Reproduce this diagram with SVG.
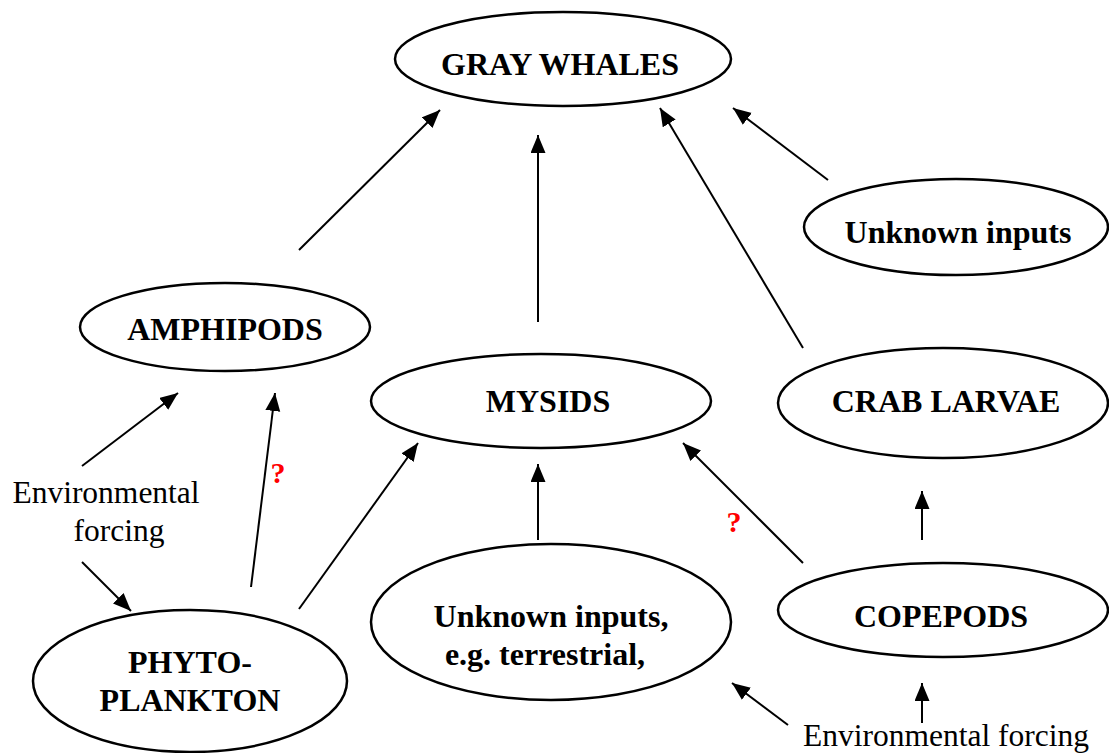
<svg xmlns="http://www.w3.org/2000/svg" width="1109" height="753" viewBox="0 0 1109 753">
<style>
.n{fill:#fff;stroke:#000;stroke-width:2.5}
.t{font-family:'Liberation Serif','Times New Roman',serif;font-size:32px;font-weight:bold;text-anchor:middle;fill:#000}
.e{font-family:'Liberation Serif','Times New Roman',serif;font-size:31.5px;text-anchor:middle;fill:#000}
.q{font-family:'Liberation Serif','Times New Roman',serif;font-size:30px;font-weight:bold;text-anchor:middle;fill:#f00}
.c line{stroke:#000;stroke-width:2;marker-end:url(#ah)}
</style>
<defs>
<marker id="ah" markerUnits="userSpaceOnUse" markerWidth="20" markerHeight="16" refX="18" refY="7.5" orient="auto">
<path d="M0,0 L18,7.5 L0,15 Z" fill="#000"/>
</marker>
</defs>
<rect width="1109" height="753" fill="#fff"/>
<g id="gray-whales"><ellipse class="n" cx="563" cy="59" rx="168" ry="47"/><text class="t" x="560" y="75">GRAY WHALES</text></g>
<g id="unknown-inputs-top"><ellipse class="n" cx="956" cy="227" rx="152" ry="48"/><text class="t" x="958" y="243">Unknown inputs</text></g>
<g id="amphipods"><ellipse class="n" cx="225" cy="327" rx="145" ry="44"/><text class="t" x="225" y="340">AMPHIPODS</text></g>
<g id="mysids"><ellipse class="n" cx="541" cy="401" rx="170" ry="47"/><text class="t" x="548" y="412">MYSIDS</text></g>
<g id="crab-larvae"><ellipse class="n" cx="943" cy="403" rx="165" ry="55"/><text class="t" x="946" y="412">CRAB LARVAE</text></g>
<g id="copepods"><ellipse class="n" cx="943" cy="610" rx="165" ry="47"/><text class="t" x="941" y="627">COPEPODS</text></g>
<g id="unknown-terrestrial"><ellipse class="n" cx="551" cy="622" rx="180" ry="78"/><text class="t" x="551" y="627">Unknown inputs,</text><text class="t" x="545" y="665">e.g. terrestrial,</text></g>
<g id="phytoplankton"><ellipse class="n" cx="190" cy="681" rx="157" ry="71"/><text class="t" x="190" y="673">PHYTO-</text><text class="t" x="190" y="711">PLANKTON</text></g>
<g id="labels">
<text class="e" x="106" y="503">Environmental</text>
<text class="e" x="119" y="541">forcing</text>
<text class="e" x="946" y="746">Environmental forcing</text>
<text class="q" x="278" y="483">?</text>
<text class="q" x="734" y="532">?</text>
</g>
<g id="connectors" class="c">
<line x1="299" y1="250" x2="440" y2="110"/>
<line x1="538" y1="322" x2="538" y2="135"/>
<line x1="803" y1="348" x2="660" y2="108"/>
<line x1="828" y1="180" x2="733" y2="108"/>
<line x1="82" y1="466" x2="178" y2="393"/>
<line x1="251" y1="587" x2="275" y2="393"/>
<line x1="299" y1="609" x2="418" y2="443"/>
<line x1="82" y1="562" x2="131" y2="611"/>
<line x1="538" y1="540" x2="538" y2="464"/>
<line x1="803" y1="563" x2="683" y2="443"/>
<line x1="922" y1="540" x2="922" y2="491"/>
<line x1="788" y1="725" x2="732" y2="683"/>
<line x1="922" y1="723" x2="922" y2="683"/>
</g>
</svg>
